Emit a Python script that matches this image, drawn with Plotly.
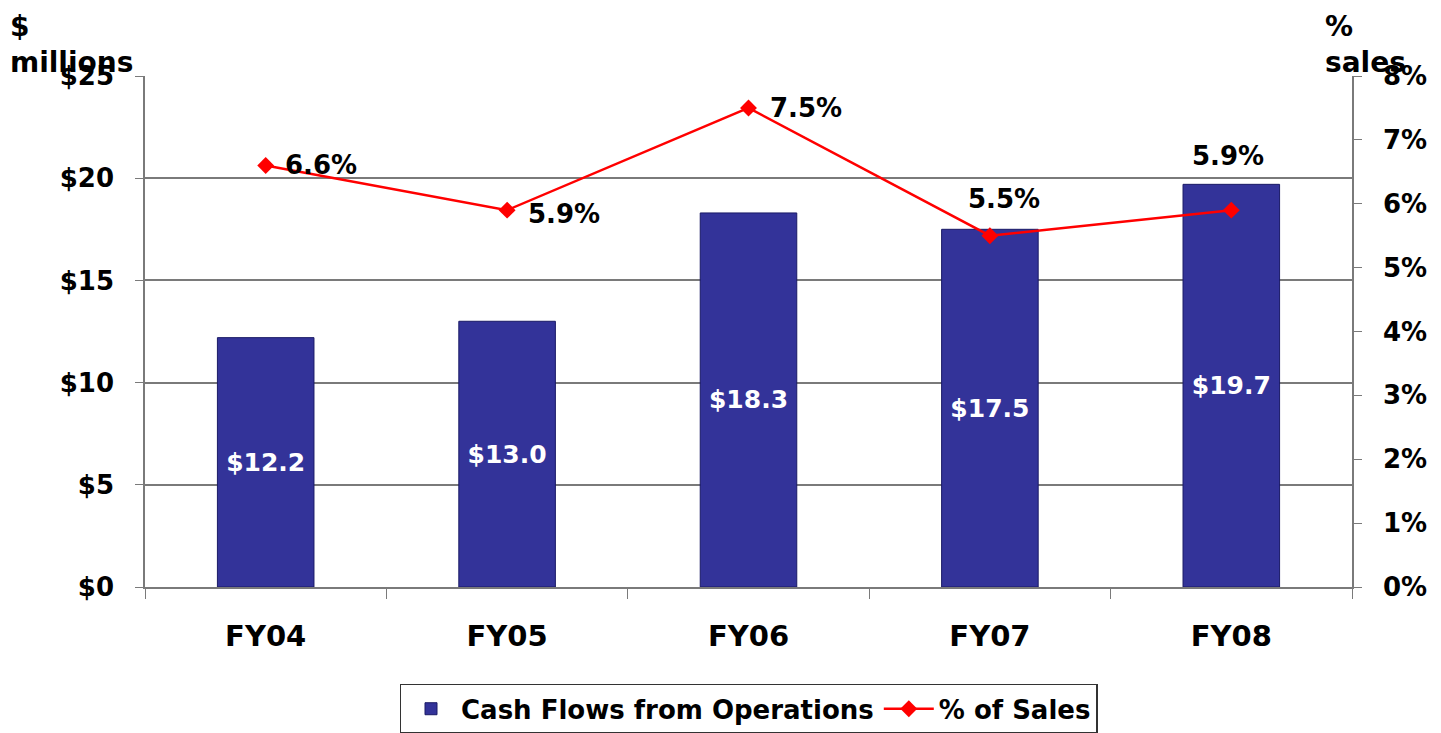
import plotly.graph_objects as go

categories = ["FY04", "FY05", "FY06", "FY07", "FY08"]
cash_flows = [12.2, 13.0, 18.3, 17.5, 19.7]
pct_sales = [6.6, 5.9, 7.5, 5.5, 5.9]
bar_labels = ["$12.2", "$13.0", "$18.3", "$17.5", "$19.7"]
pct_labels = ["6.6%", "5.9%", "7.5%", "5.5%", "5.9%"]
# label placement relative to each marker (pixels): (xanchor, xshift, yshift)
pct_label_place = [("left", 17, 0), ("left", 19, -4), ("left", 19, 0), ("center", 14, 37), ("center", -3, 54)]

FONT = "DejaVu Sans, Liberation Sans, Arial, sans-serif"
GRID = "#7a7a7a"

fig = go.Figure()
fig.add_trace(go.Bar(
    x=categories, y=cash_flows, name="Cash Flows from Operations",
    marker=dict(color="#333399", line=dict(color="#1a1a66", width=1)),
    width=0.4,
    text=bar_labels, textposition="inside", insidetextanchor="middle",
    textfont=dict(family=FONT, size=25, color="white", weight="bold"),
    textangle=0,
))
fig.add_trace(go.Scatter(
    x=categories, y=pct_sales, name="% of Sales", yaxis="y2",
    mode="lines+markers",
    line=dict(color="#ff0000", width=2.5),
    marker=dict(symbol="diamond", size=13, color="#ff0000"),
))

annotations = [
    dict(text="$<br>millions", xref="paper", yref="paper", x=0, y=1, xshift=-137, yshift=68,
         xanchor="left", yanchor="top", showarrow=False, align="left",
         font=dict(family=FONT, size=28, weight="bold")),
    dict(text="%<br>sales", xref="paper", yref="paper", x=1, y=1, xshift=-29, yshift=68,
         xanchor="left", yanchor="top", showarrow=False, align="left",
         font=dict(family=FONT, size=28, weight="bold")),
]
for cat, val, lab, (xa, xs, ys) in zip(categories, pct_sales, pct_labels, pct_label_place):
    annotations.append(dict(
        text=lab, x=cat, y=val, xref="x", yref="y2", xanchor=xa, yanchor="middle",
        xshift=xs, yshift=ys, showarrow=False,
        font=dict(family=FONT, size=26, color="black", weight="bold"),
    ))

fig.update_layout(
    width=1441, height=733,
    margin=dict(l=137, r=97, t=68, b=154, autoexpand=False),
    paper_bgcolor="white", plot_bgcolor="white",
    font=dict(family=FONT, color="black"),
    showlegend=True,
    legend=dict(orientation="h", x=0.5, xanchor="center",
                yref="container", y=0.078, yanchor="top",
                bordercolor="#333333", borderwidth=1.5, itemwidth=50,
                font=dict(family=FONT, size=26, weight="bold")),
    xaxis=dict(
        type="category", showline=True, linecolor=GRID, linewidth=1.5,
        ticks="outside", tickson="boundaries", ticklen=10, tickcolor=GRID,
        tickfont=dict(family=FONT, size=29, weight="bold"),
        ticklabelstandoff=22,
        showgrid=False,
    ),
    yaxis=dict(
        range=[0, 25], dtick=5, tickprefix="$",
        showline=True, linecolor=GRID, linewidth=1.5,
        ticks="outside", ticklen=8, tickcolor=GRID,
        showgrid=True, gridcolor=GRID, gridwidth=1.5,
        tickfont=dict(family=FONT, size=26, weight="bold"),
        ticklabelstandoff=16,
        zeroline=False,
    ),
    yaxis2=dict(
        range=[0, 8], dtick=1, ticksuffix="%", overlaying="y", side="right",
        showline=True, linecolor=GRID, linewidth=1.5,
        ticks="outside", ticklen=8, tickcolor=GRID,
        showgrid=False, zeroline=False,
        tickfont=dict(family=FONT, size=26, weight="bold"),
        ticklabelstandoff=16,
    ),
    annotations=annotations,
)

fig.write_html("out.html")
